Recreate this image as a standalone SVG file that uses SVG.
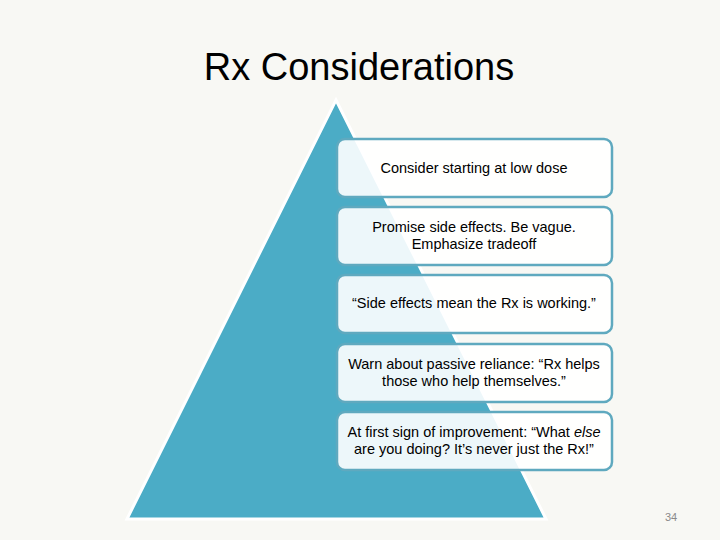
<svg xmlns="http://www.w3.org/2000/svg" width="720" height="540" viewBox="0 0 720 540">
<style>
.box{fill:#ffffff;fill-opacity:0.9;stroke:#5fa9bf;stroke-width:2.5}
.t{font-family:"Liberation Sans",Arial,sans-serif;font-size:14.5px;fill:#000;text-anchor:middle}
</style>
<rect width="720" height="540" fill="#f8f8f4"/>
<text x="359" y="80" font-family="Liberation Sans, Arial, sans-serif" font-size="38" fill="#000" text-anchor="middle">Rx Considerations</text>
<g id="pyramid">
<polygon points="336,100 546,519 127,519" fill="#4bacc6" stroke="#ffffff" stroke-width="3" stroke-linejoin="miter"/>
</g>
<g id="connectors"></g>
<g id="n1">
<rect class="box" x="337" y="139" width="275" height="58" rx="8"/>
<text class="t" x="474" y="173">Consider starting at low dose</text>
</g>
<g id="n2">
<rect class="box" x="337" y="207" width="275" height="58" rx="8"/>
<text class="t" x="474" y="232">Promise side effects. Be vague.</text>
<text class="t" x="474" y="249">Emphasize tradeoff</text>
</g>
<g id="n3">
<rect class="box" x="337" y="275" width="275" height="58" rx="8"/>
<text class="t" x="474" y="308">“Side effects mean the Rx is working.”</text>
</g>
<g id="n4">
<rect class="box" x="337" y="344" width="275" height="58" rx="8"/>
<text class="t" x="474" y="369">Warn about passive reliance: “Rx helps</text>
<text class="t" x="474" y="386">those who help themselves.”</text>
</g>
<g id="n5">
<rect class="box" x="337" y="412" width="275" height="58" rx="8"/>
<text class="t" x="474" y="437">At first sign of improvement: “What <tspan font-style="italic">else</tspan></text>
<text class="t" x="474" y="454">are you doing? It’s never just the Rx!”</text>
</g>
<text x="671" y="521" font-family="Liberation Sans, Arial, sans-serif" font-size="11" fill="#8a8a8a" text-anchor="middle">34</text>
</svg>
